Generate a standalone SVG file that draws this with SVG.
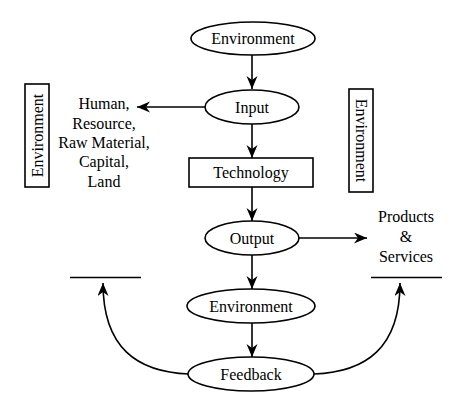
<svg xmlns="http://www.w3.org/2000/svg" width="450" height="409" viewBox="0 0 450 409">
<style>
.n{fill:#fff;stroke:#000;stroke-width:1.6}
.t{font-family:"Liberation Serif","Times New Roman",serif;font-size:16px;fill:#000;text-anchor:middle}
.c{fill:none;stroke:#000;stroke-width:1.6}
</style>
<defs>
<marker id="ah" markerUnits="userSpaceOnUse" markerWidth="16" markerHeight="14" refX="13" refY="5.5" orient="auto">
<path d="M0,0 L13,5.5 L0,11 L4,5.5 z" fill="#000"/>
</marker>
</defs>
<rect width="450" height="409" fill="#fff"/>
<g id="connectors">
<line class="c" x1="252" y1="55" x2="252" y2="89" marker-end="url(#ah)"/>
<line class="c" x1="205" y1="107" x2="137" y2="107" marker-end="url(#ah)"/>
<line class="c" x1="252" y1="124" x2="252" y2="158" marker-end="url(#ah)"/>
<line class="c" x1="252" y1="187" x2="252" y2="221" marker-end="url(#ah)"/>
<line class="c" x1="298" y1="238" x2="367" y2="238" marker-end="url(#ah)"/>
<line class="c" x1="252" y1="255" x2="252" y2="289" marker-end="url(#ah)"/>
<line class="c" x1="252" y1="323" x2="252" y2="357" marker-end="url(#ah)"/>
<path class="c" d="M189,374 C137,372 103,348 103,283" marker-end="url(#ah)"/>
<path class="c" d="M314,374 C366,372 400,348 400,283" marker-end="url(#ah)"/>
<line class="c" x1="70" y1="277.5" x2="141" y2="277.5"/>
<line class="c" x1="371" y1="277.5" x2="442" y2="277.5"/>
</g>
<g id="env-top">
<ellipse class="n" cx="253" cy="38.5" rx="62" ry="16.5"/>
<text class="t" x="253" y="44">Environment</text>
</g>
<g id="input">
<ellipse class="n" cx="252" cy="107" rx="47" ry="17"/>
<text class="t" x="252" y="112.5">Input</text>
</g>
<g id="resources">
<text class="t" x="104" y="109">Human,</text>
<text class="t" x="104" y="128.5">Resource,</text>
<text class="t" x="104" y="148">Raw Material,</text>
<text class="t" x="104" y="167">Capital,</text>
<text class="t" x="104" y="186.5">Land</text>
</g>
<g id="env-left">
<rect class="n" x="25" y="84" width="24" height="103"/>
<text class="t" transform="translate(42.5,135.5) rotate(-90)">Environment</text>
</g>
<g id="env-right">
<rect class="n" x="349" y="89" width="24" height="103"/>
<text class="t" transform="translate(355.5,140.5) rotate(90)">Environment</text>
</g>
<g id="technology">
<rect class="n" x="189" y="158" width="124" height="29"/>
<text class="t" x="251" y="178">Technology</text>
</g>
<g id="output">
<ellipse class="n" cx="252" cy="238" rx="47" ry="17"/>
<text class="t" x="252" y="243.5">Output</text>
</g>
<g id="products">
<text class="t" x="406" y="222">Products</text>
<text class="t" x="406" y="242">&amp;</text>
<text class="t" x="406" y="262">Services</text>
</g>
<g id="env-bottom">
<ellipse class="n" cx="251" cy="306" rx="64" ry="17"/>
<text class="t" x="251" y="311.5">Environment</text>
</g>
<g id="feedback">
<ellipse class="n" cx="251" cy="374" rx="63" ry="17"/>
<text class="t" x="251" y="379.5">Feedback</text>
</g>
</svg>
